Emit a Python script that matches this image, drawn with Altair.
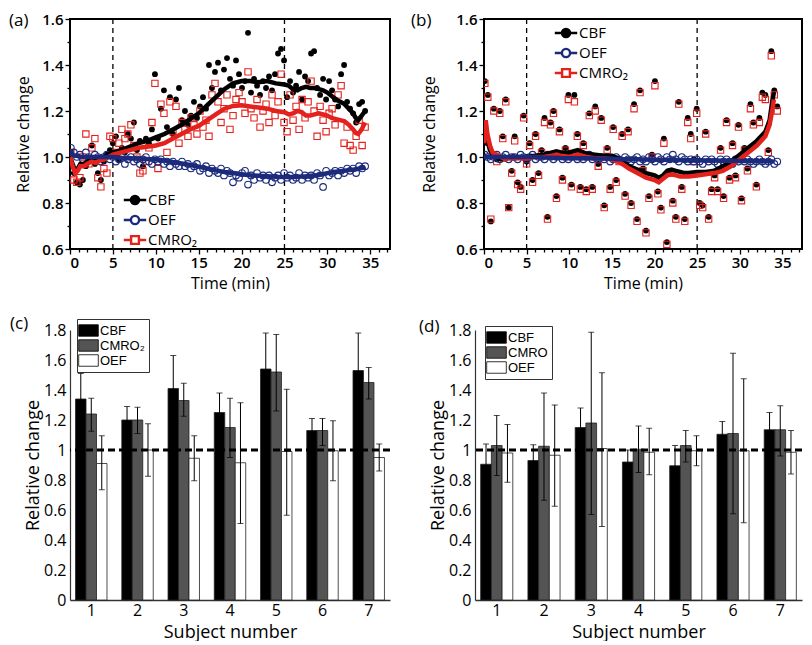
import altair as alt
import pandas as pd

# ---------------- data: panels (a) and (b) ----------------
TIME = [0.1,0.45,0.8,1.15,1.5,1.85,2.2,2.55,2.9,3.25,
        3.6,3.95,4.3,4.65,5.0,5.35,5.7,6.05,6.4,6.75,
        7.1,7.45,7.8,8.15,8.5,8.85,9.2,9.55,9.9,10.25,
        10.6,10.95,11.3,11.65,12.0,12.35,12.7,13.05,13.4,13.75,
        14.1,14.45,14.8,15.15,15.5,15.85,16.2,16.55,16.9,17.25,
        17.6,17.95,18.3,18.65,19.0,19.35,19.7,20.05,20.4,20.75,
        21.1,21.45,21.8,22.15,22.5,22.85,23.2,23.55,23.9,24.25,
        24.6,24.95,25.3,25.65,26.0,26.35,26.7,27.05,27.4,27.75,
        28.1,28.45,28.8,29.15,29.5,29.85,30.2,30.55,30.9,31.25,
        31.6,31.95,32.3,32.65,33.0,33.35,33.7,34.05,34.4]

CBF_A = [1.02,0.93,0.89,0.88,0.90,0.96,0.99,1.05,0.97,0.93,
         0.90,0.98,1.01,1.03,1.06,1.09,0.99,1.04,1.02,1.10,
         1.08,1.15,1.03,1.07,0.96,1.08,1.06,1.12,1.36,1.08,
         1.21,1.29,1.13,1.26,1.10,1.25,1.30,1.16,1.20,1.14,
         1.18,1.24,1.17,1.22,1.26,1.21,1.40,1.30,1.37,1.41,
         1.29,1.38,1.43,1.34,1.31,1.42,1.36,1.30,1.33,1.54,
         1.28,1.34,1.31,1.27,1.33,1.30,1.35,1.29,1.36,1.45,
         1.47,1.42,1.26,1.33,1.28,1.31,1.37,1.25,1.35,1.33,
         1.45,1.46,1.30,1.27,1.34,1.25,1.33,1.29,1.25,1.22,
         1.36,1.40,1.24,1.21,1.19,1.15,1.23,1.24,1.20]
CMRO2_A = [1.02,0.90,0.89,0.91,1.00,1.10,0.97,1.04,1.08,0.91,
           0.87,0.95,0.93,1.09,1.08,1.02,1.06,1.12,1.08,1.10,
           1.14,1.05,1.00,0.93,0.94,0.98,1.04,1.15,1.32,0.95,
           1.23,1.19,1.02,1.24,1.11,1.22,1.06,1.15,1.12,1.09,
           1.17,1.14,1.10,1.20,1.13,1.16,1.09,1.27,1.32,1.24,
           1.15,1.21,1.27,1.12,1.18,1.25,1.28,1.24,1.19,1.37,
           1.21,1.17,1.25,1.13,1.20,1.23,1.15,1.27,1.18,1.24,
           1.36,1.15,1.11,1.27,1.16,1.22,1.12,1.25,1.17,1.24,
           1.33,1.20,1.09,1.22,1.16,1.11,1.19,1.21,1.14,1.27,
           1.31,1.06,1.13,1.05,1.03,1.09,1.16,1.05,1.13]
OEF_A = [1.04,1.02,1.00,1.01,0.99,1.02,1.00,0.99,1.01,1.00,
         0.98,1.00,1.01,0.99,1.00,0.98,0.99,1.00,0.97,0.99,
         1.00,0.98,0.99,0.97,0.99,1.00,0.98,0.97,0.99,0.98,
         0.99,0.97,0.98,0.96,0.98,0.97,0.96,0.98,0.96,0.97,
         0.95,0.96,0.97,0.94,0.95,0.96,0.93,0.95,0.94,0.93,
         0.95,0.92,0.94,0.93,0.89,0.92,0.91,0.93,0.94,0.88,
         0.92,0.90,0.93,0.91,0.92,0.90,0.92,0.89,0.91,0.92,
         0.90,0.93,0.91,0.92,0.90,0.91,0.93,0.90,0.92,0.91,
         0.92,0.90,0.93,0.92,0.87,0.94,0.92,0.93,0.94,0.92,
         0.94,0.93,0.95,0.94,0.95,0.93,0.96,0.95,0.96]

LINE_T_A = [0,0.3,0.6,0.9,1.2,1.6,2,2.5,3,3.5,
            4,4.5,5,6,7,8,9,10,11,12,
            13,14,15,16,17,18,19,20,21,22,
            23,24,25,25.5,26,26.5,27,27.5,28,28.5,
            29,29.5,30,30.5,31,31.5,32,32.5,33,33.3,
            33.6,34,34.4]
CBF_LINE_A = [1.0,0.97,0.94,0.95,0.97,0.97,0.98,0.99,0.98,0.99,
              1.0,1.01,1.02,1.03,1.045,1.06,1.07,1.085,1.10,1.12,
              1.14,1.165,1.19,1.225,1.26,1.295,1.32,1.33,1.33,1.325,
              1.33,1.32,1.315,1.31,1.295,1.29,1.30,1.305,1.30,1.30,
              1.295,1.29,1.28,1.265,1.25,1.24,1.23,1.21,1.19,1.17,
              1.16,1.18,1.20]
CMRO2_LINE_A = [1.0,0.96,0.93,0.94,0.96,0.96,0.97,0.98,0.975,0.985,
                0.99,1.0,1.01,1.02,1.03,1.04,1.045,1.05,1.06,1.08,
                1.10,1.12,1.135,1.16,1.185,1.21,1.222,1.225,1.22,1.215,
                1.21,1.20,1.195,1.185,1.19,1.20,1.195,1.18,1.18,1.185,
                1.19,1.185,1.18,1.17,1.165,1.16,1.155,1.14,1.12,1.105,
                1.10,1.12,1.15]
OEF_LINE_A = [1.03,1.01,1.005,1.005,1.0,1.0,1.0,1.0,1.0,1.0,
              1.0,1.0,1.0,0.997,0.995,0.993,0.991,0.99,0.985,0.978,
              0.972,0.965,0.958,0.95,0.942,0.935,0.93,0.925,0.921,0.918,
              0.916,0.914,0.913,0.913,0.913,0.914,0.915,0.916,0.918,0.92,
              0.922,0.925,0.93,0.933,0.936,0.938,0.94,0.943,0.945,0.947,
              0.949,0.952,0.955]

CBF_B = [1.33,1.27,0.72,1.21,0.99,1.20,1.09,1.25,0.78,0.94,
         1.09,0.89,0.87,1.18,0.98,1.06,0.90,1.10,0.93,1.03,
         1.17,0.74,1.15,1.20,0.83,1.12,0.91,1.04,1.27,0.88,
         1.27,1.10,0.87,1.06,0.86,1.19,0.87,1.22,0.97,1.17,
         0.79,1.04,0.87,1.13,0.90,0.99,1.10,0.84,1.12,0.80,
         1.23,0.73,1.29,0.95,0.68,0.83,1.01,1.33,0.85,0.78,
         1.08,0.63,0.94,0.81,0.74,1.24,0.87,0.73,1.17,1.10,
         0.99,1.21,0.80,0.79,1.11,0.74,0.86,0.92,0.86,1.04,
         0.83,1.16,0.91,1.06,0.92,1.14,0.82,1.04,0.95,1.23,
         1.15,0.88,1.17,1.28,1.27,1.03,1.46,1.29,1.22]
CMRO2_B = [1.32,1.26,0.73,1.20,0.98,1.19,1.08,1.24,0.78,0.93,
           1.07,0.88,0.86,1.17,0.97,1.05,0.89,1.09,0.92,1.02,
           1.15,0.73,1.14,1.19,0.82,1.11,0.90,1.03,1.25,0.87,
           1.24,1.09,0.86,1.05,0.85,1.18,0.86,1.20,0.96,1.16,
           0.78,1.03,0.86,1.12,0.89,0.98,1.09,0.83,1.11,0.79,
           1.21,0.72,1.28,0.94,0.67,0.82,1.00,1.31,0.84,0.77,
           1.06,0.62,0.93,0.80,0.73,1.23,0.86,0.72,1.15,1.08,
           0.98,1.19,0.79,0.78,1.10,0.73,0.85,0.91,0.85,1.03,
           0.82,1.15,0.90,1.05,0.91,1.13,0.81,1.03,0.94,1.21,
           1.14,0.87,1.15,1.26,1.25,1.02,1.44,1.27,1.20]
OEF_B = [1.01,1.00,0.99,1.00,1.01,0.99,1.00,1.01,0.99,1.00,
         1.00,0.99,1.01,1.00,0.99,1.00,1.01,0.99,1.00,1.00,
         0.99,1.01,1.00,0.99,1.00,1.01,0.99,1.00,0.99,1.00,
         1.01,0.99,1.00,0.99,1.00,1.01,0.99,1.00,0.99,1.00,
         0.99,1.00,0.98,0.99,1.00,0.99,0.98,1.00,0.99,0.98,
         0.99,1.00,0.98,0.99,0.98,1.00,0.99,0.98,1.00,0.99,
         0.98,1.00,0.99,1.01,0.99,0.98,1.00,0.99,0.98,0.99,
         0.98,0.99,0.98,0.97,0.99,0.98,0.99,0.98,0.97,0.99,
         0.98,0.99,0.98,0.97,0.99,0.98,0.99,0.98,0.99,0.98,
         0.97,0.98,0.99,0.98,0.97,0.98,0.99,0.97,0.98]

LINE_T_B = [0,0.2,0.4,0.7,1.0,1.5,2,2.5,3,4,
            5,6,7,8,8.5,9,10,11,12,13,
            14,15,16,17,18,19,20,20.5,21,21.5,
            22,22.5,23,23.5,24,25,26,27,28,29,
            30,31,32,32.5,33,33.5,33.8,34.0]
CBF_LINE_B = [1.05,1.10,1.07,1.03,1.01,1.0,0.99,0.99,1.0,1.0,
              1.0,1.005,1.01,1.02,1.025,1.02,1.02,1.03,1.015,1.01,
              1.005,1.005,0.99,0.96,0.945,0.93,0.92,0.91,0.92,0.94,
              0.945,0.94,0.935,0.93,0.93,0.935,0.935,0.94,0.96,0.98,
              1.01,1.04,1.07,1.09,1.11,1.16,1.24,1.28]
CMRO2_LINE_B = [1.06,1.16,1.10,1.05,1.02,1.01,1.0,0.99,0.995,0.995,
                0.995,1.0,1.0,1.005,1.01,1.005,1.0,1.01,1.0,0.995,
                0.995,0.99,0.975,0.95,0.93,0.91,0.9,0.89,0.905,0.92,
                0.925,0.92,0.915,0.915,0.915,0.92,0.925,0.93,0.94,0.96,
                0.99,1.02,1.05,1.07,1.09,1.14,1.2,1.25]
OEF_LINE_B = [1.01,1.0,1.0,1.0,1.0,1.0,1.0,1.0,1.0,1.0,
              1.0,1.0,0.998,0.997,0.997,0.996,0.995,0.995,0.995,0.994,
              0.993,0.992,0.99,0.99,0.99,0.989,0.988,0.988,0.988,0.988,
              0.988,0.987,0.987,0.987,0.986,0.986,0.985,0.985,0.984,0.984,
              0.983,0.983,0.982,0.982,0.981,0.981,0.98,0.98]

STIM_LINES = [5, 25]
SERIES_AB = ["CBF", "OEF", "CMRO\u2082"]

# ---------------- data: panels (c) and (d) ----------------
SUBJECTS = [1, 2, 3, 4, 5, 6, 7]
MEASURES_C = ["CBF", "CMRO\u2082", "OEF"]
CBF_C = [1.34, 1.20, 1.41, 1.25, 1.54, 1.13, 1.53]
CBF_C_HI = [1.51, 1.29, 1.63, 1.38, 1.78, 1.21, 1.78]
CBF_C_LO = [1.17, 1.11, 1.19, 1.12, 1.30, 1.05, 1.28]
CMRO2_C = [1.24, 1.20, 1.33, 1.15, 1.52, 1.13, 1.45]
CMRO2_C_HI = [1.345, 1.285, 1.445, 1.345, 1.77, 1.21, 1.55]
CMRO2_C_LO = [1.125, 1.11, 1.225, 0.95, 1.26, 1.03, 1.34]
OEF_C = [0.91, 1.00, 0.945, 0.915, 0.99, 0.995, 0.95]
OEF_C_HI = [1.095, 1.175, 1.095, 1.315, 1.405, 1.195, 1.04]
OEF_C_LO = [0.735, 0.825, 0.795, 0.51, 0.565, 0.795, 0.86]

MEASURES_D = ["CBF", "CMRO", "OEF"]
CBF_D = [0.905, 0.93, 1.15, 0.92, 0.895, 1.105, 1.135]
CBF_D_HI = [1.04, 1.035, 1.28, 1.0, 1.03, 1.19, 1.25]
CBF_D_LO = [0.77, 0.825, 1.02, 0.84, 0.76, 1.02, 1.02]
CMRO_D = [1.03, 1.025, 1.18, 1.005, 1.03, 1.11, 1.135]
CMRO_D_HI = [1.23, 1.38, 1.785, 1.16, 1.13, 1.645, 1.295]
CMRO_D_LO = [0.83, 0.665, 0.57, 0.85, 0.92, 0.575, 0.96]
OEF_D = [0.98, 0.965, 1.01, 0.985, 0.995, 0.995, 0.985]
OEF_D_HI = [1.17, 1.30, 1.515, 1.145, 1.095, 1.475, 1.13]
OEF_D_LO = [0.785, 0.625, 0.49, 0.835, 0.895, 0.515, 0.84]

TIME_TICKS = list(range(0, 38))
RC_TICKS = [0.6, 0.7, 0.8, 0.9, 1.0, 1.1, 1.2, 1.3, 1.4, 1.5, 1.6]
BAR_TICKS = [0, 0.2, 0.4, 0.6, 0.8, 1.0, 1.2, 1.4, 1.6, 1.8]

# ---------------- styling ----------------
FONT = "Open Sans"
LEG_FONT = "Liberation Sans"
BLACK = "#000000"
NAVY = "#1c2a7c"
RED = "#e3221d"
GREY = "#545454"

PATH_CIRCLE = ("M-1.15,0H-0.42M0.42,0H1.15"
               "M0.42,0A0.42,0.42,0,1,1,-0.42,0A0.42,0.42,0,1,1,0.42,0Z")
PATH_SQUARE = "M-1.15,0H-0.4M0.4,0H1.15M-0.4,-0.4H0.4V0.4H-0.4Z"
PATH_RECT = "M-1.4,-0.82H1.4V0.82H-1.4Z"


def series_df(times, values):
    return pd.DataFrame({"t": times, "v": values})


def time_panel(cbf, oef, cmro, lt, cbf_l, oef_l, cmro_l, label, leg_x, leg_y, w, tdx, ytp):
    x = alt.X("t:Q", scale=alt.Scale(domain=[0, 37.3], nice=False, zero=False),
              title="Time (min)",
              axis=alt.Axis(values=TIME_TICKS, domain=False, grid=False, labelOverlap=False,
                            labelExpr="datum.value % 5 == 0 ? datum.label : ''",
                            tickSize={"condition": {"test": "datum.value % 5 == 0", "value": 5}, "value": 3},
                            tickColor=BLACK, tickWidth=1.3,
                            labelFont=FONT, labelFontSize=15, labelFontWeight=600,
                            labelColor=BLACK, labelPadding=1,
                            titleFont=FONT, titleFontSize=16, titleFontWeight="normal",
                            titleColor=BLACK, titlePadding=5))
    y = alt.Y("v:Q", scale=alt.Scale(domain=[0.6, 1.6], nice=False, zero=False),
              title="Relative change",
              axis=alt.Axis(values=RC_TICKS, domain=False, grid=False, format=".1f",
                            labelOverlap=False,
                            labelExpr="round(datum.value*10) % 2 == 0 ? datum.label : ''",
                            tickSize={"condition": {"test": "round(datum.value*10) % 2 == 0", "value": 5}, "value": 3},
                            tickColor=BLACK, tickWidth=1.3,
                            labelFont=FONT, labelFontSize=15, labelFontWeight=600,
                            labelColor=BLACK, labelPadding=2,
                            titleFont=FONT, titleFontSize=16, titleFontWeight="normal",
                            titleColor=BLACK, titlePadding=ytp))

    cbf_pts = alt.Chart(series_df(TIME, cbf)).mark_circle(
        size=34, color=BLACK, opacity=1, clip=True).encode(x=x, y=y)
    cmro_pts = alt.Chart(series_df(TIME, cmro)).mark_point(
        shape="square", filled=False, size=40, strokeWidth=1.1, color=RED, opacity=1, clip=True
    ).encode(x=x, y=y)
    oef_pts = alt.Chart(series_df(TIME, oef)).mark_point(
        shape="circle", filled=False, size=44, strokeWidth=1.1, color=NAVY, opacity=1, clip=True
    ).encode(x=x, y=y)
    cbf_line = alt.Chart(series_df(lt, cbf_l)).mark_line(color=BLACK, strokeWidth=4.5, clip=True).encode(x=x, y=y)
    cmro_line = alt.Chart(series_df(lt, cmro_l)).mark_line(color=RED, strokeWidth=4.5, clip=True).encode(x=x, y=y)
    oef_line = alt.Chart(series_df(lt, oef_l)).mark_line(color=NAVY, strokeWidth=4.5, clip=True).encode(x=x, y=y)
    vlines = alt.Chart(pd.DataFrame({"t": STIM_LINES})).mark_rule(
        color=BLACK, strokeDash=[5, 4], strokeWidth=1.3).encode(x=x)

    leg = alt.Legend(orient="none", legendX=leg_x, legendY=leg_y, title=None,
                     symbolSize=380, symbolStrokeWidth=2.4, padding=0, rowPadding=0,
                     labelFont=FONT, labelFontSize=15, labelColor=BLACK, labelOffset=2,
                     labelLimit=0)
    leg_df = pd.DataFrame({"s": SERIES_AB, "t": [-5, -5, -5], "v": [1.0, 1.0, 1.0]})
    legend_layer = alt.Chart(leg_df).mark_point(clip=True, opacity=1).encode(
        x=x, y=y,
        shape=alt.Shape("s:N", scale=alt.Scale(domain=SERIES_AB, range=[PATH_CIRCLE, PATH_CIRCLE, PATH_SQUARE]), legend=leg),
        stroke=alt.Stroke("s:N", scale=alt.Scale(domain=SERIES_AB, range=[BLACK, NAVY, RED]), legend=leg),
        fill=alt.Fill("s:N", scale=alt.Scale(domain=SERIES_AB, range=[BLACK, "white", "white"]), legend=leg),
    )

    return alt.layer(vlines, cbf_pts, cmro_pts, oef_pts, cbf_line, cmro_line, oef_line, legend_layer).properties(
        width=w, height=230,
        title=alt.TitleParams(label, anchor="start", frame="group", font=FONT, fontSize=17,
                              fontWeight="normal", color=BLACK, offset=-18, dx=tdx),
        view=alt.ViewBackground(stroke=BLACK, strokeWidth=2),
    )


def bar_panel(measures, vals, his, los, label, leg_x, leg_y, w, tdx):
    rows = []
    for m, v, hi, lo in zip(measures, vals, his, los):
        for s, a, b, c in zip(SUBJECTS, v, hi, lo):
            rows.append({"subj": s, "m": m, "v": a, "hi": b, "lo": c})
    df = pd.DataFrame(rows)
    xscale = alt.Scale(paddingInner=0.32, paddingOuter=0.12)
    xaxis = alt.Axis(labelAngle=0, ticks=False, domainColor="#333", domainWidth=1.4,
                     labelFont=FONT, labelFontSize=16, labelColor=BLACK, labelPadding=2,
                     titleFont=FONT, titleFontSize=18, titleFontWeight="normal",
                     titleColor=BLACK, titlePadding=5)
    x = alt.X("subj:O", title="Subject number", scale=xscale, axis=xaxis)
    xo = alt.XOffset("m:N", scale=alt.Scale(domain=measures, paddingInner=0, paddingOuter=0))
    yscale = alt.Scale(domain=[0, 1.8], nice=False)
    yaxis = alt.Axis(values=BAR_TICKS, format=".1~f", ticks=False, grid=False,
                     labelOverlap=False,
                     domainColor="#333", domainWidth=1.2,
                     labelFont=FONT, labelFontSize=16, labelColor=BLACK, labelPadding=4,
                     titleFont=FONT, titleFontSize=18, titleFontWeight="normal",
                     titleColor=BLACK, titlePadding=1)

    def yf(field):
        return alt.Y(field, scale=yscale, axis=yaxis, title="Relative change")

    leg = alt.Legend(orient="none", legendX=leg_x, legendY=leg_y, title=None,
                     symbolType=PATH_RECT, symbolSize=196, symbolStrokeColor=BLACK,
                     symbolStrokeWidth=0.8, strokeColor="#333", padding=4, rowPadding=0,
                     labelFont=LEG_FONT, labelFontSize=13, labelColor=BLACK, labelOffset=4)
    bars = alt.Chart(df).mark_bar(stroke="#222", strokeWidth=0.8).encode(
        x=x, xOffset=xo, y=yf("v:Q"),
        fill=alt.Fill("m:N", scale=alt.Scale(domain=measures, range=[BLACK, GREY, "white"]), legend=leg),
    )
    whisk = alt.Chart(df).mark_rule(color=BLACK, strokeWidth=1).encode(
        x=x, xOffset=xo, y=yf("lo:Q"), y2="hi:Q")
    cap_hi = alt.Chart(df).mark_tick(color=BLACK, thickness=1, size=6, orient="horizontal").encode(
        x=x, xOffset=xo, y=yf("hi:Q"))
    cap_lo = alt.Chart(df).mark_tick(color=BLACK, thickness=1, size=6, orient="horizontal").encode(
        x=x, xOffset=xo, y=yf("lo:Q"))
    ref = alt.Chart(pd.DataFrame({"r": [1.0]})).mark_rule(
        color=BLACK, strokeDash=[7, 4], strokeWidth=3).encode(y=yf("r:Q"))
    return alt.layer(bars, whisk, cap_hi, cap_lo, ref).properties(
        width=w, height=270,
        title=alt.TitleParams(label, anchor="start", frame="group", font=FONT, fontSize=17,
                              fontWeight="normal", color=BLACK, offset=-14, dx=tdx),
        view=alt.ViewBackground(stroke=None),
    )


pa = time_panel(CBF_A, OEF_A, CMRO2_A, LINE_T_A, CBF_LINE_A, OEF_LINE_A, CMRO2_LINE_A,
                "(a)", 54, 170, 320, -61, 10)
pb = time_panel(CBF_B, OEF_B, CMRO2_B, LINE_T_B, CBF_LINE_B, OEF_LINE_B, CMRO2_LINE_B,
                "(b)", 71, 3, 318, -73, 18)
pc = bar_panel(MEASURES_C, [CBF_C, CMRO2_C, OEF_C], [CBF_C_HI, CMRO2_C_HI, OEF_C_HI],
               [CBF_C_LO, CMRO2_C_LO, OEF_C_LO], "(c)", 7, -11, 320, -60)
pd_ = bar_panel(MEASURES_D, [CBF_D, CMRO_D, OEF_D], [CBF_D_HI, CMRO_D_HI, OEF_D_HI],
                [CBF_D_LO, CMRO_D_LO, OEF_D_LO], "(d)", 10, -4, 327, -56)

ind = dict(x="independent", y="independent", shape="independent", stroke="independent",
           fill="independent", xOffset="independent")
row1 = alt.hconcat(pa, pb, spacing=19).resolve_scale(**ind).resolve_legend(
    shape="independent", stroke="independent", fill="independent")
row2 = alt.hconcat(pc, pd_, spacing=27).resolve_scale(**ind).resolve_legend(fill="independent")

chart = alt.ConcatChart(concat=[row1, row2], columns=1, spacing=22, align="none").resolve_scale(**ind).resolve_legend(
    shape="independent", stroke="independent", fill="independent").properties(
    padding={"left": 0, "top": 3, "right": 0, "bottom": 0}
).configure_view(stroke=None).configure(background="white")

chart.save("out.html", embed_options={"renderer": "svg", "actions": False})
